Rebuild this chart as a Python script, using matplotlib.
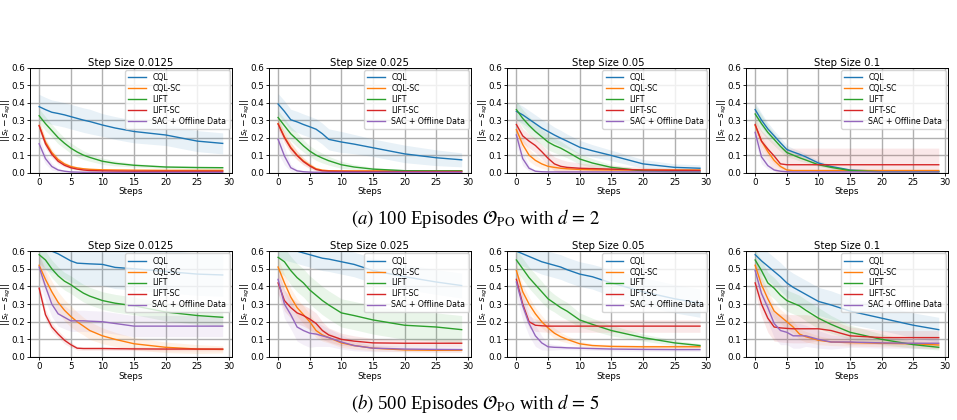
import matplotlib
matplotlib.use("Agg")
import matplotlib.pyplot as plt
import numpy as np

steps = [0, 1, 2, 3, 4, 5, 6, 7, 8, 10, 12, 15, 20, 25, 29]
methods = ["CQL", "CQL-SC", "LIFT", "LIFT-SC", "SAC + Offline Data"]
step_sizes = ["0.0125", "0.025", "0.05", "0.1"]
captions = [r"$\mathit{(a)}$ 100 Episodes $\mathcal{O}_{\mathrm{PO}}$ with $d\,=\,2$",
            r"$\mathit{(b)}$ 500 Episodes $\mathcal{O}_{\mathrm{PO}}$ with $d\,=\,5$"]

# ---- row (a): means ----
a1_mean = {
    "CQL": [0.377, 0.36, 0.345, 0.338, 0.33, 0.32, 0.31, 0.30, 0.292, 0.272, 0.255, 0.235, 0.215, 0.18, 0.167],
    "CQL-SC": [0.27, 0.175, 0.115, 0.075, 0.05, 0.035, 0.027, 0.022, 0.019, 0.016, 0.015, 0.014, 0.013, 0.013, 0.013],
    "LIFT": [0.325, 0.28, 0.24, 0.2, 0.168, 0.14, 0.118, 0.1, 0.087, 0.065, 0.053, 0.042, 0.032, 0.029, 0.028],
    "LIFT-SC": [0.268, 0.165, 0.105, 0.065, 0.042, 0.028, 0.02, 0.015, 0.012, 0.01, 0.009, 0.008, 0.008, 0.008, 0.008],
    "SAC + Offline Data": [0.165, 0.08, 0.035, 0.015, 0.008, 0.004, 0.003, 0.002, 0.002, 0.001, 0.001, 0.001, 0.001, 0.001, 0.001],
}
a1_sd = {
    "CQL": [0.07, 0.07, 0.07, 0.07, 0.07, 0.07, 0.07, 0.07, 0.07, 0.065, 0.065, 0.065, 0.06, 0.06, 0.06],
    "CQL-SC": [0.03, 0.025, 0.02, 0.015, 0.012, 0.01, 0.008, 0.006, 0.005, 0.004, 0.004, 0.004, 0.004, 0.004, 0.004],
    "LIFT": [0.04, 0.04, 0.035, 0.035, 0.03, 0.03, 0.028, 0.025, 0.022, 0.018, 0.015, 0.01, 0.008, 0.008, 0.008],
    "LIFT-SC": [0.03, 0.025, 0.02, 0.015, 0.01, 0.008, 0.006, 0.005, 0.004, 0.003, 0.003, 0.003, 0.003, 0.003, 0.003],
    "SAC + Offline Data": [0.04, 0.03, 0.02, 0.01, 0.005, 0.003, 0.002, 0.002, 0.002, 0.001, 0.001, 0.001, 0.001, 0.001, 0.001],
}
a2_mean = {
    "CQL": [0.392, 0.35, 0.302, 0.29, 0.275, 0.262, 0.248, 0.222, 0.19, 0.175, 0.163, 0.142, 0.107, 0.085, 0.073],
    "CQL-SC": [0.28, 0.205, 0.145, 0.1, 0.067, 0.042, 0.022, 0.014, 0.011, 0.01, 0.01, 0.01, 0.01, 0.01, 0.01],
    "LIFT": [0.315, 0.268, 0.222, 0.188, 0.153, 0.123, 0.1, 0.083, 0.068, 0.045, 0.032, 0.02, 0.011, 0.01, 0.01],
    "LIFT-SC": [0.278, 0.2, 0.14, 0.098, 0.063, 0.038, 0.018, 0.01, 0.008, 0.007, 0.006, 0.006, 0.006, 0.006, 0.006],
    "SAC + Offline Data": [0.19, 0.095, 0.028, 0.01, 0.005, 0.003, 0.002, 0.002, 0.002, 0.002, 0.002, 0.002, 0.002, 0.002, 0.002],
}
a2_sd = {
    "CQL": [0.06, 0.06, 0.06, 0.06, 0.06, 0.06, 0.06, 0.06, 0.06, 0.06, 0.055, 0.05, 0.05, 0.045, 0.04],
    "CQL-SC": [0.03, 0.03, 0.03, 0.025, 0.02, 0.015, 0.01, 0.006, 0.005, 0.004, 0.004, 0.004, 0.004, 0.004, 0.004],
    "LIFT": [0.04, 0.04, 0.04, 0.04, 0.035, 0.03, 0.03, 0.028, 0.025, 0.02, 0.015, 0.01, 0.005, 0.005, 0.005],
    "LIFT-SC": [0.03, 0.03, 0.03, 0.025, 0.02, 0.015, 0.01, 0.006, 0.005, 0.004, 0.004, 0.004, 0.004, 0.004, 0.004],
    "SAC + Offline Data": [0.08, 0.05, 0.02, 0.01, 0.005, 0.003, 0.002, 0.002, 0.002, 0.002, 0.002, 0.002, 0.002, 0.002, 0.002],
}
a3_mean = {
    "CQL": [0.35, 0.33, 0.305, 0.28, 0.255, 0.235, 0.215, 0.197, 0.18, 0.145, 0.125, 0.098, 0.05, 0.03, 0.025],
    "CQL-SC": [0.245, 0.16, 0.1, 0.07, 0.05, 0.036, 0.03, 0.025, 0.022, 0.018, 0.016, 0.015, 0.015, 0.015, 0.015],
    "LIFT": [0.36, 0.31, 0.27, 0.235, 0.205, 0.175, 0.155, 0.14, 0.12, 0.078, 0.055, 0.03, 0.01, 0.005, 0.004],
    "LIFT-SC": [0.275, 0.21, 0.18, 0.155, 0.12, 0.082, 0.05, 0.036, 0.03, 0.025, 0.023, 0.02, 0.015, 0.013, 0.012],
    "SAC + Offline Data": [0.215, 0.08, 0.025, 0.008, 0.005, 0.004, 0.004, 0.004, 0.004, 0.004, 0.004, 0.004, 0.004, 0.004, 0.004],
}
a3_sd = {
    "CQL": [0.05, 0.05, 0.05, 0.05, 0.05, 0.05, 0.045, 0.045, 0.04, 0.04, 0.035, 0.03, 0.025, 0.02, 0.02],
    "CQL-SC": [0.04, 0.04, 0.035, 0.03, 0.025, 0.02, 0.018, 0.015, 0.013, 0.01, 0.01, 0.01, 0.01, 0.01, 0.01],
    "LIFT": [0.05, 0.05, 0.05, 0.05, 0.045, 0.045, 0.04, 0.04, 0.035, 0.03, 0.025, 0.015, 0.008, 0.005, 0.005],
    "LIFT-SC": [0.04, 0.04, 0.04, 0.04, 0.04, 0.04, 0.04, 0.04, 0.035, 0.03, 0.025, 0.02, 0.015, 0.01, 0.01],
    "SAC + Offline Data": [0.06, 0.04, 0.015, 0.005, 0.003, 0.002, 0.002, 0.002, 0.002, 0.002, 0.002, 0.002, 0.002, 0.002, 0.002],
}
a4_mean = {
    "CQL": [0.36, 0.3, 0.25, 0.21, 0.17, 0.132, 0.118, 0.105, 0.09, 0.055, 0.035, 0.015, 0.008, 0.008, 0.008],
    "CQL-SC": [0.27, 0.18, 0.12, 0.07, 0.035, 0.015, 0.012, 0.012, 0.012, 0.012, 0.012, 0.012, 0.012, 0.012, 0.012],
    "LIFT": [0.335, 0.28, 0.23, 0.19, 0.15, 0.115, 0.1, 0.085, 0.072, 0.045, 0.03, 0.012, 0.005, 0.005, 0.005],
    "LIFT-SC": [0.275, 0.18, 0.135, 0.095, 0.05, 0.045, 0.045, 0.045, 0.045, 0.045, 0.045, 0.045, 0.045, 0.045, 0.045],
    "SAC + Offline Data": [0.23, 0.09, 0.04, 0.015, 0.008, 0.005, 0.004, 0.004, 0.004, 0.004, 0.004, 0.004, 0.004, 0.004, 0.004],
}
a4_sd = {
    "CQL": [0.04, 0.04, 0.035, 0.03, 0.03, 0.025, 0.02, 0.02, 0.018, 0.015, 0.01, 0.005, 0.004, 0.004, 0.004],
    "CQL-SC": [0.03, 0.03, 0.025, 0.02, 0.015, 0.008, 0.005, 0.005, 0.005, 0.005, 0.005, 0.005, 0.005, 0.005, 0.005],
    "LIFT": [0.05, 0.05, 0.04, 0.035, 0.03, 0.025, 0.02, 0.018, 0.015, 0.01, 0.008, 0.005, 0.004, 0.004, 0.004],
    "LIFT-SC": [0.04, 0.06, 0.07, 0.08, 0.09, 0.095, 0.095, 0.095, 0.095, 0.095, 0.095, 0.095, 0.095, 0.095, 0.095],
    "SAC + Offline Data": [0.06, 0.04, 0.02, 0.008, 0.004, 0.003, 0.002, 0.002, 0.002, 0.002, 0.002, 0.002, 0.002, 0.002, 0.002],
}

# ---- row (b): means ----
b1_mean = {
    "CQL": [0.63, 0.615, 0.6, 0.585, 0.565, 0.545, 0.532, 0.53, 0.528, 0.525, 0.508, 0.5, 0.485, 0.47, 0.465],
    "CQL-SC": [0.52, 0.44, 0.37, 0.31, 0.265, 0.23, 0.2, 0.175, 0.15, 0.12, 0.1, 0.075, 0.055, 0.045, 0.043],
    "LIFT": [0.58, 0.55, 0.5, 0.46, 0.43, 0.41, 0.385, 0.362, 0.345, 0.32, 0.305, 0.29, 0.255, 0.235, 0.225],
    "LIFT-SC": [0.39, 0.24, 0.17, 0.13, 0.095, 0.07, 0.05, 0.048, 0.048, 0.048, 0.047, 0.046, 0.045, 0.045, 0.045],
    "SAC + Offline Data": [0.51, 0.4, 0.3, 0.245, 0.225, 0.205, 0.205, 0.205, 0.203, 0.2, 0.19, 0.175, 0.175, 0.175, 0.175],
}
b1_sd = {
    "CQL": [0.12, 0.12, 0.12, 0.12, 0.12, 0.12, 0.12, 0.12, 0.12, 0.12, 0.12, 0.12, 0.12, 0.12, 0.12],
    "CQL-SC": [0.06, 0.06, 0.06, 0.06, 0.06, 0.06, 0.055, 0.05, 0.05, 0.045, 0.04, 0.035, 0.03, 0.025, 0.02],
    "LIFT": [0.05, 0.05, 0.05, 0.05, 0.05, 0.05, 0.05, 0.05, 0.05, 0.05, 0.05, 0.05, 0.05, 0.05, 0.05],
    "LIFT-SC": [0.03, 0.03, 0.025, 0.02, 0.02, 0.015, 0.01, 0.01, 0.01, 0.01, 0.01, 0.01, 0.01, 0.01, 0.01],
    "SAC + Offline Data": [0.08, 0.08, 0.07, 0.07, 0.065, 0.06, 0.06, 0.06, 0.06, 0.06, 0.06, 0.06, 0.06, 0.06, 0.06],
}
b2_mean = {
    "CQL": [0.63, 0.62, 0.61, 0.6, 0.59, 0.58, 0.57, 0.56, 0.555, 0.54, 0.525, 0.49, 0.455, 0.425, 0.405],
    "CQL-SC": [0.51, 0.42, 0.34, 0.28, 0.24, 0.2, 0.15, 0.125, 0.11, 0.08, 0.065, 0.05, 0.04, 0.038, 0.038],
    "LIFT": [0.565, 0.54, 0.49, 0.45, 0.42, 0.38, 0.35, 0.32, 0.295, 0.25, 0.235, 0.21, 0.18, 0.17, 0.155],
    "LIFT-SC": [0.42, 0.32, 0.28, 0.25, 0.235, 0.215, 0.19, 0.15, 0.125, 0.1, 0.09, 0.08, 0.078, 0.078, 0.078],
    "SAC + Offline Data": [0.44, 0.3, 0.24, 0.17, 0.15, 0.135, 0.13, 0.12, 0.11, 0.085, 0.065, 0.05, 0.045, 0.043, 0.042],
}
b2_sd = {
    "CQL": [0.07, 0.07, 0.07, 0.07, 0.07, 0.07, 0.07, 0.07, 0.07, 0.07, 0.07, 0.07, 0.07, 0.07, 0.07],
    "CQL-SC": [0.05, 0.05, 0.05, 0.05, 0.05, 0.045, 0.04, 0.035, 0.03, 0.025, 0.02, 0.015, 0.01, 0.01, 0.01],
    "LIFT": [0.08, 0.08, 0.08, 0.08, 0.08, 0.08, 0.08, 0.08, 0.08, 0.08, 0.08, 0.08, 0.08, 0.08, 0.08],
    "LIFT-SC": [0.06, 0.06, 0.06, 0.06, 0.06, 0.06, 0.06, 0.05, 0.04, 0.035, 0.03, 0.025, 0.02, 0.02, 0.02],
    "SAC + Offline Data": [0.08, 0.08, 0.08, 0.08, 0.08, 0.08, 0.07, 0.06, 0.05, 0.04, 0.03, 0.02, 0.015, 0.015, 0.015],
}
b3_mean = {
    "CQL": [0.6, 0.585, 0.57, 0.555, 0.54, 0.53, 0.52, 0.51, 0.495, 0.47, 0.455, 0.42, 0.37, 0.33, 0.305],
    "CQL-SC": [0.49, 0.37, 0.3, 0.245, 0.2, 0.165, 0.135, 0.115, 0.1, 0.075, 0.065, 0.06, 0.058, 0.058, 0.058],
    "LIFT": [0.55, 0.5, 0.45, 0.41, 0.37, 0.33, 0.305, 0.28, 0.26, 0.21, 0.185, 0.15, 0.11, 0.08, 0.065],
    "LIFT-SC": [0.44, 0.3, 0.2, 0.18, 0.177, 0.175, 0.175, 0.175, 0.175, 0.175, 0.175, 0.175, 0.175, 0.175, 0.175],
    "SAC + Offline Data": [0.425, 0.29, 0.19, 0.12, 0.08, 0.058, 0.055, 0.054, 0.052, 0.05, 0.048, 0.045, 0.043, 0.042, 0.042],
}
b3_sd = {
    "CQL": [0.07, 0.07, 0.07, 0.07, 0.07, 0.07, 0.07, 0.07, 0.07, 0.07, 0.07, 0.075, 0.08, 0.08, 0.08],
    "CQL-SC": [0.04, 0.04, 0.04, 0.035, 0.035, 0.03, 0.03, 0.025, 0.02, 0.015, 0.01, 0.01, 0.01, 0.01, 0.01],
    "LIFT": [0.06, 0.06, 0.06, 0.06, 0.06, 0.055, 0.05, 0.05, 0.05, 0.04, 0.035, 0.03, 0.02, 0.015, 0.01],
    "LIFT-SC": [0.04, 0.04, 0.035, 0.035, 0.035, 0.035, 0.035, 0.035, 0.035, 0.035, 0.035, 0.035, 0.035, 0.035, 0.035],
    "SAC + Offline Data": [0.08, 0.08, 0.07, 0.06, 0.04, 0.02, 0.015, 0.012, 0.01, 0.01, 0.01, 0.01, 0.01, 0.01, 0.01],
}
b4_mean = {
    "CQL": [0.58, 0.545, 0.515, 0.485, 0.455, 0.42, 0.395, 0.375, 0.355, 0.315, 0.295, 0.26, 0.22, 0.18, 0.155],
    "CQL-SC": [0.52, 0.41, 0.33, 0.26, 0.23, 0.2, 0.17, 0.13, 0.115, 0.095, 0.085, 0.082, 0.078, 0.075, 0.068],
    "LIFT": [0.55, 0.49, 0.42, 0.39, 0.35, 0.32, 0.305, 0.29, 0.265, 0.22, 0.185, 0.14, 0.1, 0.07, 0.055],
    "LIFT-SC": [0.42, 0.3, 0.22, 0.17, 0.165, 0.162, 0.16, 0.16, 0.16, 0.16, 0.15, 0.12, 0.11, 0.11, 0.11],
    "SAC + Offline Data": [0.49, 0.36, 0.28, 0.19, 0.15, 0.14, 0.12, 0.12, 0.12, 0.1, 0.085, 0.085, 0.08, 0.078, 0.078],
}
b4_sd = {
    "CQL": [0.08, 0.08, 0.08, 0.08, 0.08, 0.08, 0.08, 0.08, 0.08, 0.08, 0.08, 0.075, 0.07, 0.07, 0.07],
    "CQL-SC": [0.05, 0.05, 0.05, 0.045, 0.04, 0.04, 0.035, 0.03, 0.03, 0.025, 0.02, 0.02, 0.02, 0.02, 0.02],
    "LIFT": [0.06, 0.06, 0.06, 0.06, 0.06, 0.06, 0.06, 0.06, 0.06, 0.06, 0.05, 0.04, 0.03, 0.02, 0.015],
    "LIFT-SC": [0.06, 0.07, 0.08, 0.08, 0.08, 0.08, 0.08, 0.08, 0.08, 0.07, 0.06, 0.05, 0.04, 0.04, 0.04],
    "SAC + Offline Data": [0.08, 0.08, 0.08, 0.08, 0.08, 0.07, 0.07, 0.07, 0.06, 0.05, 0.04, 0.03, 0.03, 0.03, 0.03],
}

rows = [
    [(a1_mean, a1_sd), (a2_mean, a2_sd), (a3_mean, a3_sd), (a4_mean, a4_sd)],
    [(b1_mean, b1_sd), (b2_mean, b2_sd), (b3_mean, b3_sd), (b4_mean, b4_sd)],
]
colors = ["C0", "C1", "C2", "C3", "C4"]

fig = plt.figure(figsize=(9.57, 4.2), dpi=100)

lefts = [0.0313, 0.281, 0.530, 0.7795]
bottoms = [0.589, 0.150]
heights = [0.250, 0.252]
cap_y = [0.480, 0.040]

x = np.array(steps)
for r, row in enumerate(rows):
    for c, (mean, sd) in enumerate(row):
        ax = fig.add_axes([lefts[c], bottoms[r], 0.211, heights[r]])
        for m, col in zip(methods, colors):
            mu = np.array(mean[m])
            s = np.array(sd[m])
            ax.plot(x, mu, color=col, lw=1.0, label=m)
            ax.fill_between(x, mu - s, mu + s, color=col, alpha=0.1, lw=0)
        ax.set_ylim(0, 0.6)
        ax.set_xlim(-1.45, 30.45)
        ax.set_xticks([0, 5, 10, 15, 20, 25, 30])
        ax.set_yticks([0.0, 0.1, 0.2, 0.3, 0.4, 0.5, 0.6])
        ax.tick_params(labelsize=6.3, length=2.5, width=0.6, pad=1.2)
        ax.grid(True, color="#b0b0b0", lw=1.0)
        ax.set_axisbelow(True)
        for sp in ax.spines.values():
            sp.set_linewidth(0.7)
        ax.set_title("Step Size " + step_sizes[c], fontsize=7.3, pad=1.5)
        ax.set_xlabel("Steps", fontsize=6.3, labelpad=0.5)
        ax.set_ylabel(r"$||s_t - s_{sg}||$", fontsize=6.5)
        ax.yaxis.set_label_coords(-0.085, 0.5)
        ax.legend(loc="upper right", fontsize=5.6, handlelength=2.3, borderaxespad=0.3,
                  labelspacing=0.25, framealpha=0.8, handletextpad=0.8)
    fig.text(0.497, cap_y[r], captions[r], ha="center", va="center",
             fontsize=13.5, family="Liberation Serif", math_fontfamily="stix")

fig.savefig("out.png", dpi=100)
